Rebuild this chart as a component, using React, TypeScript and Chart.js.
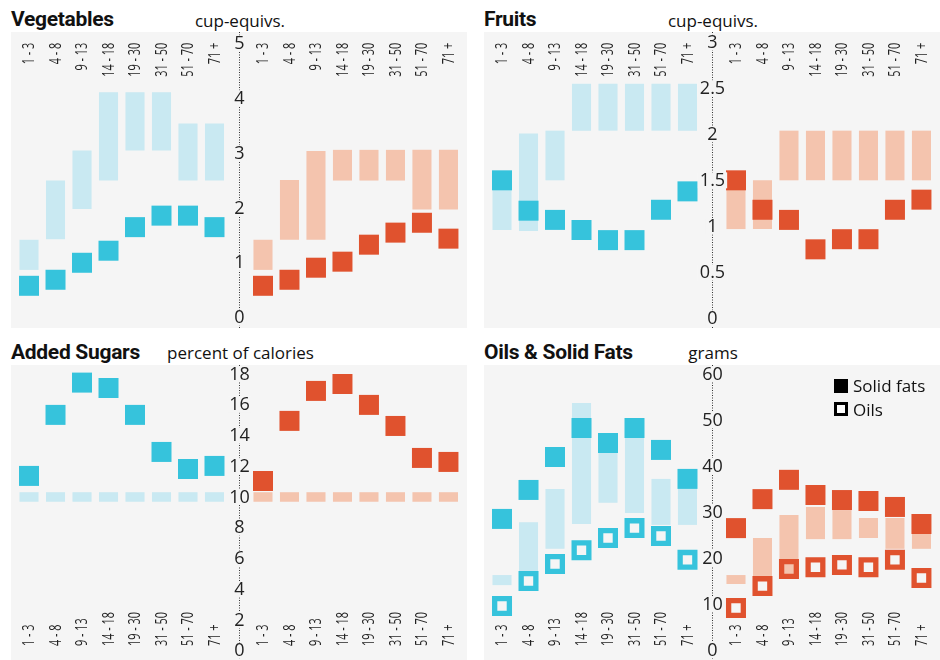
import React, { useEffect, useRef } from "react";
import { Chart, registerables } from "chart.js";

Chart.register(...registerables);

// ---------------- data ----------------
const ageGroups = ["1 - 3", "4 - 8", "9 - 13", "14 - 18", "19 - 30", "31 - 50", "51 - 70", "71 +"];

const vegTicks = [0, 1, 2, 3, 4, 5];
const vegMaleLow = [0.87, 1.43, 1.98, 2.5, 3.05, 3.05, 2.5, 2.5];
const vegMaleHigh = [1.42, 2.5, 3.05, 4.11, 4.11, 4.11, 3.54, 3.54];
const vegMaleIntake = [0.58, 0.69, 1.0, 1.22, 1.65, 1.86, 1.86, 1.65];
const vegFemaleLow = [0.87, 1.42, 1.42, 2.5, 2.5, 2.5, 1.97, 1.97];
const vegFemaleHigh = [1.42, 2.51, 3.04, 3.06, 3.06, 3.06, 3.06, 3.06];
const vegFemaleIntake = [0.58, 0.69, 0.91, 1.02, 1.33, 1.55, 1.73, 1.44];

const fruitTicks = [0, 0.5, 1, 1.5, 2, 2.5, 3];
const fruitMaleLow = [0.96, 0.95, 1.5, 2.04, 2.04, 2.04, 2.04, 2.04];
const fruitMaleHigh = [1.5, 2.01, 2.04, 2.55, 2.55, 2.55, 2.55, 2.55];
const fruitMaleIntake = [1.5, 1.17, 1.07, 0.96, 0.85, 0.85, 1.18, 1.38];
const fruitFemaleLow = [0.97, 0.97, 1.5, 1.5, 1.5, 1.5, 1.5, 1.5];
const fruitFemaleHigh = [1.5, 1.5, 2.04, 2.04, 2.04, 2.04, 2.04, 2.04];
const fruitFemaleIntake = [1.5, 1.18, 1.07, 0.75, 0.86, 0.86, 1.18, 1.29];

const sugarTicks = [0, 2, 4, 6, 8, 10, 12, 14, 16, 18];
const sugarMaleLow = [9.69, 9.69, 9.69, 9.69, 9.69, 9.69, 9.69, 9.69];
const sugarMaleHigh = [10.31, 10.31, 10.31, 10.31, 10.31, 10.31, 10.31, 10.31];
const sugarMaleIntake = [11.37, 15.34, 17.44, 17.09, 15.34, 12.93, 11.82, 12.02];
const sugarFemaleLow = [9.69, 9.69, 9.69, 9.69, 9.69, 9.69, 9.69, 9.69];
const sugarFemaleHigh = [10.31, 10.31, 10.31, 10.31, 10.31, 10.31, 10.31, 10.31];
const sugarFemaleIntake = [11.04, 14.95, 16.9, 17.35, 15.99, 14.62, 12.54, 12.28];

const fatTicks = [0, 10, 20, 30, 40, 50, 60];
const fatMaleLow = [14.1, 17.2, 22.0, 27.4, 32.0, 29.8, 27.2, 27.2];
const fatMaleHigh = [16.3, 27.8, 35.0, 53.7, 45.0, 48.0, 37.2, 35.0];
const fatMaleSolid = [28.5, 34.8, 41.96, 48.26, 45.0, 48.26, 43.5, 37.2];
const fatMaleOil = [9.57, 15.0, 18.7, 21.7, 24.35, 26.5, 24.8, 19.6];
const fatFemaleLow = [14.35, 16.1, 16.0, 24.1, 24.1, 24.35, 22.0, 22.0];
const fatFemaleHigh = [16.3, 24.35, 29.35, 31.1, 30.4, 28.7, 28.7, 27.0];
const fatFemaleSolid = [26.5, 32.8, 37.0, 33.7, 32.6, 32.4, 31.1, 27.4];
const fatFemaleOil = [9.13, 13.9, 17.6, 18.0, 18.5, 18.0, 19.6, 15.65];

// ---------------- layout / style ----------------
const BG = "#f5f5f5";
const MALE_DARK = "#36c3dc";
const MALE_LIGHT = "#c9e9f2";
const FEMALE_DARK = "#e0522e";
const FEMALE_LIGHT = "#f4c4ae";
const TEXT = "#222";

const X_MIN = -0.68;
const X_MAX = 16.53;
const FEMALE_OFFSET = 8.83;
const AXIS_X = 7.91;
const MARK_RADIUS = 10 / Math.SQRT1_2; // 20px square
const OIL_BORDER = 5.3;
const OIL_RADIUS = (20 - OIL_BORDER) / 2 / Math.SQRT1_2;

type Spec = {
  maleLow: number[];
  maleHigh: number[];
  maleMark: number[];
  femaleLow: number[];
  femaleHigh: number[];
  femaleMark: number[];
  maleOil?: number[];
  femaleOil?: number[];
  ticks: number[];
  yMin: number;
  yMax: number;
  labelsAt: "top" | "bottom";
};

function makeAxisPlugin(spec: Spec) {
  return {
    id: "centerAxis",
    afterDraw(chart: any) {
      const ctx = chart.ctx as CanvasRenderingContext2D;
      const xs = chart.scales.x;
      const ys = chart.scales.y;
      const ax = Math.round(xs.getPixelForValue(AXIS_X)) + 0.5;
      ctx.save();
      ctx.strokeStyle = "#333";
      ctx.lineWidth = 1;
      ctx.setLineDash([1, 1.5]);
      ctx.beginPath();
      ctx.moveTo(ax, 0);
      ctx.lineTo(ax, chart.height);
      ctx.stroke();
      ctx.setLineDash([]);

      ctx.font = '18px "Open Sans"';
      ctx.textAlign = "center";
      ctx.textBaseline = "middle";
      for (const t of spec.ticks) {
        const py = ys.getPixelForValue(t);
        const label = String(t);
        const w = ctx.measureText(label).width;
        ctx.fillStyle = BG;
        ctx.fillRect(ax - w / 2 - 2, py - 8, w + 4, 16);
        ctx.fillStyle = TEXT;
        ctx.fillText(label, ax, py + 0.5);
      }

      ctx.font = '16px "Open Sans"';
      ctx.fillStyle = TEXT;
      ctx.textBaseline = "middle";
      const anchorY = spec.labelsAt === "top" ? 10.7 : chart.height - 14;
      const drawLabel = (label: string, xv: number) => {
        const px = xs.getPixelForValue(xv);
        ctx.save();
        ctx.translate(px, anchorY);
        ctx.rotate(-Math.PI / 2);
        ctx.scale(0.68, 1);
        ctx.textAlign = spec.labelsAt === "top" ? "right" : "left";
        ctx.fillText(label, 0, 0.5);
        ctx.restore();
      };
      ageGroups.forEach((g, i) => {
        drawLabel(g, i);
        drawLabel(g, i + FEMALE_OFFSET);
      });
      ctx.restore();
    },
  };
}

function buildConfig(spec: Spec): any {
  const mx = (i: number) => i;
  const fx = (i: number) => i + FEMALE_OFFSET;
  const datasets: any[] = [
    {
      type: "bar",
      data: spec.maleLow.map((lo, i) => ({ x: mx(i), y: [lo, spec.maleHigh[i]] })),
      backgroundColor: MALE_LIGHT,
      borderWidth: 0,
      grouped: false,
      maxBarThickness: 20,
      order: 5,
    },
    {
      type: "bar",
      data: spec.femaleLow.map((lo, i) => ({ x: fx(i), y: [lo, spec.femaleHigh[i]] })),
      backgroundColor: FEMALE_LIGHT,
      borderWidth: 0,
      grouped: false,
      maxBarThickness: 20,
      order: 4,
    },
    {
      type: "scatter",
      data: spec.maleMark.map((v, i) => ({ x: mx(i), y: v })),
      pointStyle: "rect",
      pointRadius: MARK_RADIUS,
      pointBackgroundColor: MALE_DARK,
      pointBorderWidth: 0,
      order: 3,
    },
    {
      type: "scatter",
      data: spec.femaleMark.map((v, i) => ({ x: fx(i), y: v })),
      pointStyle: "rect",
      pointRadius: MARK_RADIUS,
      pointBackgroundColor: FEMALE_DARK,
      pointBorderWidth: 0,
      order: 2,
    },
  ];
  if (spec.maleOil) {
    datasets.push({
      type: "scatter",
      data: spec.maleOil.map((v, i) => ({ x: mx(i), y: v })),
      pointStyle: "rect",
      pointRadius: OIL_RADIUS,
      pointBackgroundColor: "rgba(255,255,255,0)",
      pointBorderColor: MALE_DARK,
      pointBorderWidth: OIL_BORDER,
      order: 1,
    });
  }
  if (spec.femaleOil) {
    datasets.push({
      type: "scatter",
      data: spec.femaleOil.map((v, i) => ({ x: fx(i), y: v })),
      pointStyle: "rect",
      pointRadius: OIL_RADIUS,
      pointBackgroundColor: "rgba(255,255,255,0)",
      pointBorderColor: FEMALE_DARK,
      pointBorderWidth: OIL_BORDER,
      order: 0,
    });
  }
  return {
    type: "bar",
    data: { datasets },
    options: {
      responsive: false,
      animation: false,
      devicePixelRatio: 1,
      events: [],
      layout: { padding: 0, autoPadding: false },
      plugins: {
        legend: { display: false },
        tooltip: { enabled: false },
        title: { display: false },
      },
      scales: {
        x: { type: "linear", min: X_MIN, max: X_MAX, display: false, offset: false },
        y: { type: "linear", min: spec.yMin, max: spec.yMax, display: false },
      },
    },
    plugins: [makeAxisPlugin(spec)],
  };
}

const vegSpec: Spec = {
  maleLow: vegMaleLow, maleHigh: vegMaleHigh, maleMark: vegMaleIntake,
  femaleLow: vegFemaleLow, femaleHigh: vegFemaleHigh, femaleMark: vegFemaleIntake,
  ticks: vegTicks, yMin: -0.19, yMax: 5.21, labelsAt: "top",
};
const fruitSpec: Spec = {
  maleLow: fruitMaleLow, maleHigh: fruitMaleHigh, maleMark: fruitMaleIntake,
  femaleLow: fruitFemaleLow, femaleHigh: fruitFemaleHigh, femaleMark: fruitFemaleIntake,
  ticks: fruitTicks, yMin: -0.105, yMax: 3.112, labelsAt: "top",
};
const sugarSpec: Spec = {
  maleLow: sugarMaleLow, maleHigh: sugarMaleHigh, maleMark: sugarMaleIntake,
  femaleLow: sugarFemaleLow, femaleHigh: sugarFemaleHigh, femaleMark: sugarFemaleIntake,
  ticks: sugarTicks, yMin: -0.605, yMax: 18.585, labelsAt: "bottom",
};
const fatSpec: Spec = {
  maleLow: fatMaleLow, maleHigh: fatMaleHigh, maleMark: fatMaleSolid,
  femaleLow: fatFemaleLow, femaleHigh: fatFemaleHigh, femaleMark: fatFemaleSolid,
  maleOil: fatMaleOil, femaleOil: fatFemaleOil,
  ticks: fatTicks, yMin: -2.17, yMax: 61.96, labelsAt: "bottom",
};

function Panel(props: { spec: Spec; left: number; top: number; width: number; height: number }) {
  const ref = useRef<HTMLCanvasElement | null>(null);
  useEffect(() => {
    if (!ref.current) return;
    const chart = new Chart(ref.current, buildConfig(props.spec));
    return () => chart.destroy();
  }, []);
  return (
    <canvas
      ref={ref}
      width={props.width}
      height={props.height}
      style={{
        position: "absolute",
        left: props.left,
        top: props.top,
        width: props.width,
        height: props.height,
        background: BG,
      }}
    />
  );
}

function Title(props: { text: string; left: number; top: number }) {
  return (
    <div
      style={{
        position: "absolute",
        left: props.left,
        top: props.top,
        font: '700 21px/21px Roboto, sans-serif',
        letterSpacing: "-0.3px",
        color: "#111",
        whiteSpace: "nowrap",
      }}
    >
      {props.text}
    </div>
  );
}

function Unit(props: { text: string; center: number; top: number }) {
  return (
    <div
      style={{
        position: "absolute",
        left: props.center - 120,
        width: 240,
        top: props.top,
        textAlign: "center",
        font: '17px/17px "Open Sans", sans-serif',
        color: "#111",
        whiteSpace: "nowrap",
      }}
    >
      {props.text}
    </div>
  );
}

export default function App() {
  return (
    <div
      style={{
        position: "fixed",
        left: 0,
        top: 0,
        width: 940,
        height: 660,
        background: "#fff",
        overflow: "hidden",
      }}
    >
      <Title text="Vegetables" left={11} top={9} />
      <Unit text="cup-equivs." center={240} top={11.6} />
      <Title text="Fruits" left={484} top={9} />
      <Unit text="cup-equivs." center={713} top={11.6} />
      <Title text="Added Sugars" left={11} top={342.3} />
      <Unit text="percent of calories" center={240.5} top={344.4} />
      <Title text="Oils & Solid Fats" left={484} top={342.3} />
      <Unit text="grams" center={713} top={344.4} />

      <Panel spec={vegSpec} left={11} top={32} width={456} height={296} />
      <Panel spec={fruitSpec} left={484} top={32} width={456} height={296} />
      <Panel spec={sugarSpec} left={11} top={365} width={456} height={295} />
      <Panel spec={fatSpec} left={484} top={365} width={456} height={295} />

      <div style={{ position: "absolute", left: 834, top: 379, width: 14, height: 14, background: "#000" }} />
      <div
        style={{
          position: "absolute",
          left: 834,
          top: 402,
          width: 14,
          height: 14,
          boxSizing: "border-box",
          border: "3px solid #000",
          background: "#fff",
        }}
      />
      <div style={{ position: "absolute", left: 853, top: 377.4, font: '17px/17px "Open Sans", sans-serif', color: "#111", whiteSpace: "nowrap" }}>
        Solid fats
      </div>
      <div style={{ position: "absolute", left: 853, top: 400.9, font: '17px/17px "Open Sans", sans-serif', color: "#111", whiteSpace: "nowrap" }}>
        Oils
      </div>
    </div>
  );
}
